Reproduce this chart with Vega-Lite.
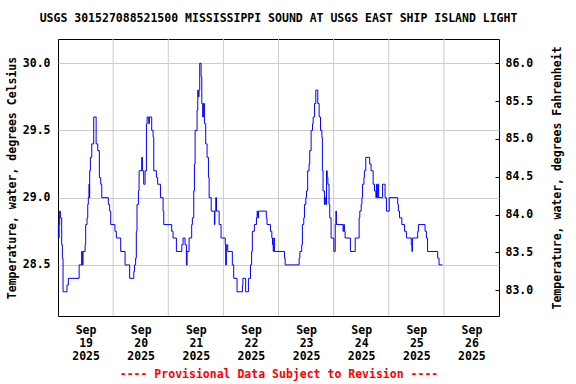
{
  "$schema": "https://vega.github.io/schema/vega-lite/v6.json",
  "width": 441,
  "height": 277,
  "autosize": "none",
  "padding": {"left": 58, "top": 39, "right": 77, "bottom": 68},
  "background": "white",
  "title": {
    "text": "USGS 301527088521500 MISSISSIPPI SOUND AT USGS EAST SHIP ISLAND LIGHT",
    "font": "DejaVu Sans Mono",
    "fontSize": 11.5,
    "fontWeight": "bold",
    "color": "black",
    "anchor": "middle",
    "offset": 14
  },
  "config": {
    "view": {"stroke": "black", "strokeWidth": 1},
    "axis": {
      "labelFont": "DejaVu Sans Mono",
      "labelFontWeight": "bold",
      "labelFontSize": 11.5,
      "labelColor": "black",
      "titleFont": "DejaVu Sans Mono",
      "titleFontWeight": "bold",
      "titleFontSize": 11.5,
      "titleColor": "black",
      "domain": false
    }
  },
  "layer": [
    {
      "data": {"values": [
        {"time": "2025-09-20T00:00"}, {"time": "2025-09-21T00:00"}, {"time": "2025-09-22T00:00"},
        {"time": "2025-09-23T00:00"}, {"time": "2025-09-24T00:00"}, {"time": "2025-09-25T00:00"},
        {"time": "2025-09-26T00:00"}
      ]},
      "mark": {"type": "rule", "color": "#cccccc", "strokeWidth": 1},
      "encoding": {
        "x": {
          "field": "time", "type": "temporal",
          "scale": {"domain": [{"year": 2025, "month": 9, "date": 19}, {"year": 2025, "month": 9, "date": 27}]},
          "axis": {
            "title": "---- Provisional Data Subject to Revision ----",
            "titleColor": "#ff0000",
            "titlePadding": 7,
            "values": [
              {"year": 2025, "month": 9, "date": 19, "hours": 12},
              {"year": 2025, "month": 9, "date": 20, "hours": 12},
              {"year": 2025, "month": 9, "date": 21, "hours": 12},
              {"year": 2025, "month": 9, "date": 22, "hours": 12},
              {"year": 2025, "month": 9, "date": 23, "hours": 12},
              {"year": 2025, "month": 9, "date": 24, "hours": 12},
              {"year": 2025, "month": 9, "date": 25, "hours": 12},
              {"year": 2025, "month": 9, "date": 26, "hours": 12}
            ],
            "labelExpr": "[timeFormat(datum.value, '%b'), timeFormat(datum.value, '%d'), timeFormat(datum.value, '%Y')]",
            "labelLineHeight": 13,
            "labelPadding": 8,
            "labelAngle": 0,
            "ticks": false,
            "grid": false
          }
        }
      }
    },
    {
      "data": {"values": [
        {"time": "2025-09-19T00:00", "temp": 28.7},
        {"time": "2025-09-19T00:10", "temp": 28.8},
        {"time": "2025-09-19T00:20", "temp": 28.7},
        {"time": "2025-09-19T00:27", "temp": 28.8},
        {"time": "2025-09-19T00:44", "temp": 28.9},
        {"time": "2025-09-19T01:02", "temp": 28.85},
        {"time": "2025-09-19T01:36", "temp": 28.65},
        {"time": "2025-09-19T01:54", "temp": 28.55},
        {"time": "2025-09-19T02:12", "temp": 28.3},
        {"time": "2025-09-19T03:54", "temp": 28.35},
        {"time": "2025-09-19T04:30", "temp": 28.4},
        {"time": "2025-09-19T09:12", "temp": 28.5},
        {"time": "2025-09-19T10:18", "temp": 28.6},
        {"time": "2025-09-19T10:36", "temp": 28.5},
        {"time": "2025-09-19T10:54", "temp": 28.6},
        {"time": "2025-09-19T11:48", "temp": 28.65},
        {"time": "2025-09-19T12:03", "temp": 28.8},
        {"time": "2025-09-19T12:39", "temp": 28.85},
        {"time": "2025-09-19T12:57", "temp": 28.95},
        {"time": "2025-09-19T13:12", "temp": 29.0},
        {"time": "2025-09-19T13:30", "temp": 29.1},
        {"time": "2025-09-19T13:39", "temp": 29.0},
        {"time": "2025-09-19T13:48", "temp": 29.2},
        {"time": "2025-09-19T14:06", "temp": 29.3},
        {"time": "2025-09-19T14:42", "temp": 29.4},
        {"time": "2025-09-19T15:33", "temp": 29.6},
        {"time": "2025-09-19T16:36", "temp": 29.4},
        {"time": "2025-09-19T17:18", "temp": 29.35},
        {"time": "2025-09-19T18:00", "temp": 29.15},
        {"time": "2025-09-19T18:36", "temp": 29.1},
        {"time": "2025-09-19T19:03", "temp": 29.0},
        {"time": "2025-09-19T21:54", "temp": 28.95},
        {"time": "2025-09-19T22:30", "temp": 28.9},
        {"time": "2025-09-19T22:57", "temp": 28.8},
        {"time": "2025-09-20T00:48", "temp": 28.75},
        {"time": "2025-09-20T01:24", "temp": 28.7},
        {"time": "2025-09-20T03:18", "temp": 28.6},
        {"time": "2025-09-20T05:12", "temp": 28.5},
        {"time": "2025-09-20T07:12", "temp": 28.4},
        {"time": "2025-09-20T09:00", "temp": 28.45},
        {"time": "2025-09-20T09:18", "temp": 28.5},
        {"time": "2025-09-20T09:48", "temp": 28.55},
        {"time": "2025-09-20T10:06", "temp": 28.75},
        {"time": "2025-09-20T10:24", "temp": 28.95},
        {"time": "2025-09-20T11:00", "temp": 29.05},
        {"time": "2025-09-20T11:18", "temp": 29.2},
        {"time": "2025-09-20T12:27", "temp": 29.3},
        {"time": "2025-09-20T12:45", "temp": 29.2},
        {"time": "2025-09-20T13:18", "temp": 29.1},
        {"time": "2025-09-20T13:54", "temp": 29.2},
        {"time": "2025-09-20T14:30", "temp": 29.55},
        {"time": "2025-09-20T14:48", "temp": 29.6},
        {"time": "2025-09-20T15:30", "temp": 29.55},
        {"time": "2025-09-20T15:48", "temp": 29.6},
        {"time": "2025-09-20T16:48", "temp": 29.5},
        {"time": "2025-09-20T17:24", "temp": 29.45},
        {"time": "2025-09-20T17:42", "temp": 29.2},
        {"time": "2025-09-20T18:51", "temp": 29.15},
        {"time": "2025-09-20T19:24", "temp": 29.1},
        {"time": "2025-09-20T20:36", "temp": 29.0},
        {"time": "2025-09-20T21:45", "temp": 28.9},
        {"time": "2025-09-20T22:03", "temp": 28.8},
        {"time": "2025-09-21T01:30", "temp": 28.75},
        {"time": "2025-09-21T02:06", "temp": 28.7},
        {"time": "2025-09-21T03:33", "temp": 28.6},
        {"time": "2025-09-21T05:54", "temp": 28.65},
        {"time": "2025-09-21T06:27", "temp": 28.7},
        {"time": "2025-09-21T07:18", "temp": 28.65},
        {"time": "2025-09-21T07:54", "temp": 28.5},
        {"time": "2025-09-21T08:12", "temp": 28.6},
        {"time": "2025-09-21T09:04", "temp": 28.7},
        {"time": "2025-09-21T10:12", "temp": 28.8},
        {"time": "2025-09-21T10:30", "temp": 28.85},
        {"time": "2025-09-21T11:06", "temp": 29.05},
        {"time": "2025-09-21T11:24", "temp": 29.25},
        {"time": "2025-09-21T11:42", "temp": 29.5},
        {"time": "2025-09-21T12:33", "temp": 29.65},
        {"time": "2025-09-21T12:51", "temp": 29.8},
        {"time": "2025-09-21T13:06", "temp": 29.75},
        {"time": "2025-09-21T13:24", "temp": 29.8},
        {"time": "2025-09-21T13:42", "temp": 30.0},
        {"time": "2025-09-21T14:18", "temp": 29.9},
        {"time": "2025-09-21T14:36", "temp": 29.7},
        {"time": "2025-09-21T15:00", "temp": 29.6},
        {"time": "2025-09-21T15:18", "temp": 29.7},
        {"time": "2025-09-21T15:45", "temp": 29.55},
        {"time": "2025-09-21T16:18", "temp": 29.4},
        {"time": "2025-09-21T16:54", "temp": 29.3},
        {"time": "2025-09-21T17:30", "temp": 29.15},
        {"time": "2025-09-21T17:48", "temp": 29.0},
        {"time": "2025-09-21T18:42", "temp": 28.9},
        {"time": "2025-09-21T20:06", "temp": 28.8},
        {"time": "2025-09-21T20:18", "temp": 28.9},
        {"time": "2025-09-21T20:42", "temp": 29.0},
        {"time": "2025-09-21T21:00", "temp": 28.9},
        {"time": "2025-09-21T22:09", "temp": 28.8},
        {"time": "2025-09-21T23:00", "temp": 28.7},
        {"time": "2025-09-22T00:48", "temp": 28.65},
        {"time": "2025-09-22T01:00", "temp": 28.5},
        {"time": "2025-09-22T01:18", "temp": 28.65},
        {"time": "2025-09-22T01:54", "temp": 28.6},
        {"time": "2025-09-22T03:54", "temp": 28.5},
        {"time": "2025-09-22T04:30", "temp": 28.4},
        {"time": "2025-09-22T05:57", "temp": 28.3},
        {"time": "2025-09-22T08:18", "temp": 28.35},
        {"time": "2025-09-22T08:30", "temp": 28.4},
        {"time": "2025-09-22T09:42", "temp": 28.3},
        {"time": "2025-09-22T10:54", "temp": 28.4},
        {"time": "2025-09-22T11:48", "temp": 28.5},
        {"time": "2025-09-22T12:18", "temp": 28.6},
        {"time": "2025-09-22T12:36", "temp": 28.75},
        {"time": "2025-09-22T13:30", "temp": 28.8},
        {"time": "2025-09-22T14:24", "temp": 28.85},
        {"time": "2025-09-22T14:42", "temp": 28.9},
        {"time": "2025-09-22T15:00", "temp": 28.85},
        {"time": "2025-09-22T15:18", "temp": 28.9},
        {"time": "2025-09-22T18:42", "temp": 28.85},
        {"time": "2025-09-22T19:00", "temp": 28.8},
        {"time": "2025-09-22T20:30", "temp": 28.75},
        {"time": "2025-09-22T21:06", "temp": 28.7},
        {"time": "2025-09-22T21:24", "temp": 28.65},
        {"time": "2025-09-22T21:42", "temp": 28.6},
        {"time": "2025-09-22T21:57", "temp": 28.7},
        {"time": "2025-09-22T22:12", "temp": 28.6},
        {"time": "2025-09-23T02:36", "temp": 28.55},
        {"time": "2025-09-23T02:54", "temp": 28.5},
        {"time": "2025-09-23T08:59", "temp": 28.55},
        {"time": "2025-09-23T09:18", "temp": 28.6},
        {"time": "2025-09-23T10:06", "temp": 28.65},
        {"time": "2025-09-23T10:24", "temp": 28.8},
        {"time": "2025-09-23T11:00", "temp": 28.85},
        {"time": "2025-09-23T11:18", "temp": 28.95},
        {"time": "2025-09-23T11:54", "temp": 29.0},
        {"time": "2025-09-23T12:12", "temp": 29.05},
        {"time": "2025-09-23T12:42", "temp": 29.2},
        {"time": "2025-09-23T13:18", "temp": 29.25},
        {"time": "2025-09-23T13:36", "temp": 29.35},
        {"time": "2025-09-23T14:12", "temp": 29.5},
        {"time": "2025-09-23T14:48", "temp": 29.55},
        {"time": "2025-09-23T15:06", "temp": 29.6},
        {"time": "2025-09-23T15:42", "temp": 29.7},
        {"time": "2025-09-23T16:15", "temp": 29.8},
        {"time": "2025-09-23T17:06", "temp": 29.7},
        {"time": "2025-09-23T17:42", "temp": 29.6},
        {"time": "2025-09-23T18:18", "temp": 29.5},
        {"time": "2025-09-23T18:54", "temp": 29.45},
        {"time": "2025-09-23T19:06", "temp": 29.2},
        {"time": "2025-09-23T19:24", "temp": 29.05},
        {"time": "2025-09-23T20:00", "temp": 28.95},
        {"time": "2025-09-23T20:18", "temp": 29.0},
        {"time": "2025-09-23T20:36", "temp": 28.95},
        {"time": "2025-09-23T20:54", "temp": 29.2},
        {"time": "2025-09-23T21:12", "temp": 29.15},
        {"time": "2025-09-23T21:30", "temp": 29.1},
        {"time": "2025-09-23T22:00", "temp": 28.95},
        {"time": "2025-09-23T22:18", "temp": 28.85},
        {"time": "2025-09-23T22:54", "temp": 28.7},
        {"time": "2025-09-24T00:06", "temp": 28.6},
        {"time": "2025-09-24T00:42", "temp": 28.8},
        {"time": "2025-09-24T01:00", "temp": 28.9},
        {"time": "2025-09-24T01:12", "temp": 28.8},
        {"time": "2025-09-24T04:06", "temp": 28.75},
        {"time": "2025-09-24T04:24", "temp": 28.8},
        {"time": "2025-09-24T04:42", "temp": 28.75},
        {"time": "2025-09-24T05:00", "temp": 28.7},
        {"time": "2025-09-24T07:18", "temp": 28.6},
        {"time": "2025-09-24T09:24", "temp": 28.7},
        {"time": "2025-09-24T11:06", "temp": 28.85},
        {"time": "2025-09-24T11:24", "temp": 28.9},
        {"time": "2025-09-24T12:00", "temp": 28.95},
        {"time": "2025-09-24T12:18", "temp": 29.0},
        {"time": "2025-09-24T12:36", "temp": 29.1},
        {"time": "2025-09-24T13:12", "temp": 29.15},
        {"time": "2025-09-24T13:24", "temp": 29.2},
        {"time": "2025-09-24T14:00", "temp": 29.3},
        {"time": "2025-09-24T15:42", "temp": 29.25},
        {"time": "2025-09-24T16:18", "temp": 29.2},
        {"time": "2025-09-24T17:12", "temp": 29.1},
        {"time": "2025-09-24T17:48", "temp": 29.05},
        {"time": "2025-09-24T18:24", "temp": 29.0},
        {"time": "2025-09-24T18:42", "temp": 29.1},
        {"time": "2025-09-24T19:00", "temp": 29.0},
        {"time": "2025-09-24T19:18", "temp": 29.1},
        {"time": "2025-09-24T19:36", "temp": 29.0},
        {"time": "2025-09-24T21:18", "temp": 29.1},
        {"time": "2025-09-24T22:24", "temp": 29.0},
        {"time": "2025-09-24T23:00", "temp": 28.9},
        {"time": "2025-09-25T00:12", "temp": 29.0},
        {"time": "2025-09-25T03:54", "temp": 28.95},
        {"time": "2025-09-25T04:12", "temp": 28.9},
        {"time": "2025-09-25T04:42", "temp": 28.85},
        {"time": "2025-09-25T05:42", "temp": 28.8},
        {"time": "2025-09-25T06:54", "temp": 28.75},
        {"time": "2025-09-25T07:42", "temp": 28.7},
        {"time": "2025-09-25T09:48", "temp": 28.65},
        {"time": "2025-09-25T10:06", "temp": 28.6},
        {"time": "2025-09-25T10:18", "temp": 28.7},
        {"time": "2025-09-25T12:36", "temp": 28.75},
        {"time": "2025-09-25T12:54", "temp": 28.8},
        {"time": "2025-09-25T15:48", "temp": 28.75},
        {"time": "2025-09-25T16:24", "temp": 28.7},
        {"time": "2025-09-25T16:54", "temp": 28.6},
        {"time": "2025-09-25T21:18", "temp": 28.55},
        {"time": "2025-09-25T21:54", "temp": 28.5},
        {"time": "2025-09-25T23:24", "temp": 28.5}
      ]},
      "mark": {"type": "line", "interpolate": "step-after", "color": "#0000ff", "strokeWidth": 1},
      "encoding": {
        "x": {
          "field": "time", "type": "temporal",
          "scale": {"domain": [{"year": 2025, "month": 9, "date": 19}, {"year": 2025, "month": 9, "date": 27}]},
          "axis": {
            "title": "---- Provisional Data Subject to Revision ----",
            "titleColor": "#ff0000",
            "titlePadding": 7,
            "values": [
              {"year": 2025, "month": 9, "date": 19, "hours": 12},
              {"year": 2025, "month": 9, "date": 20, "hours": 12},
              {"year": 2025, "month": 9, "date": 21, "hours": 12},
              {"year": 2025, "month": 9, "date": 22, "hours": 12},
              {"year": 2025, "month": 9, "date": 23, "hours": 12},
              {"year": 2025, "month": 9, "date": 24, "hours": 12},
              {"year": 2025, "month": 9, "date": 25, "hours": 12},
              {"year": 2025, "month": 9, "date": 26, "hours": 12}
            ],
            "labelExpr": "[timeFormat(datum.value, '%b'), timeFormat(datum.value, '%d'), timeFormat(datum.value, '%Y')]",
            "labelLineHeight": 13,
            "labelPadding": 8,
            "labelAngle": 0,
            "ticks": false,
            "grid": false
          }
        },
        "y": {
          "field": "temp", "type": "quantitative",
          "scale": {"domain": [28.12, 30.18], "nice": false, "zero": false},
          "axis": {
            "orient": "left",
            "title": "Temperature, water, degrees Celsius",
            "values": [28.5, 29.0, 29.5, 30.0],
            "format": ".1f",
            "grid": true,
            "gridColor": "#cccccc",
            "ticks": false,
            "labelPadding": 8,
            "titlePadding": 5
          }
        }
      }
    },
    {
      "data": {"values": [{"fahrenheit": 83.0}, {"fahrenheit": 86.0}]},
      "mark": {"type": "point", "opacity": 0},
      "encoding": {
        "y": {
          "field": "fahrenheit", "type": "quantitative",
          "scale": {"domain": [82.66, 86.32], "nice": false, "zero": false},
          "axis": {
            "orient": "right",
            "title": "Temperature, water, degrees Fahrenheit",
            "titleAngle": 270,
            "titleBaseline": "top",
            "values": [83.0, 83.5, 84.0, 84.5, 85.0, 85.5, 86.0],
            "format": ".1f",
            "grid": false,
            "ticks": true,
            "tickSize": -4,
            "tickColor": "black",
            "labelPadding": 10,
            "titlePadding": 19
          }
        }
      }
    }
  ],
  "resolve": {"scale": {"y": "independent"}}
}
